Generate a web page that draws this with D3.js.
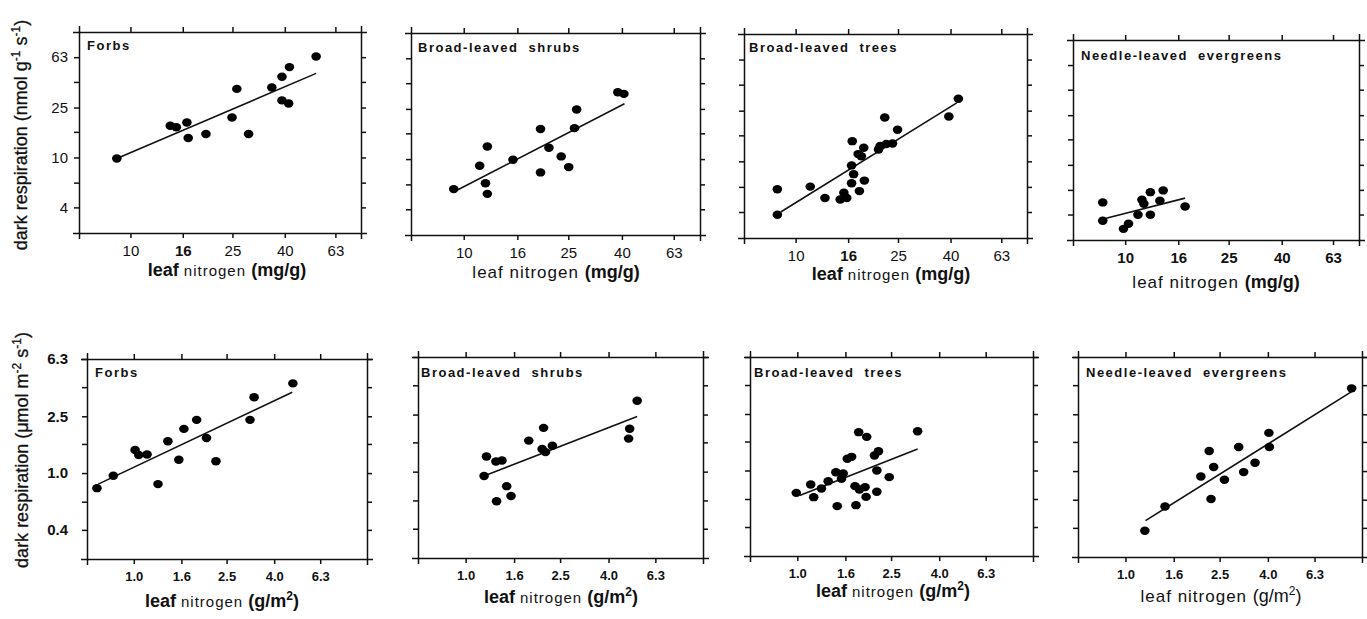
<!DOCTYPE html>
<html>
<head>
<meta charset="utf-8">
<script src="https://cdn.jsdelivr.net/npm/d3@7"></script>
<style>
  body { margin: 0; background: #fff; }
  svg { font-family: "Liberation Sans", Arial, Helvetica, sans-serif; }
  .axis path, .axis line { stroke: #111; stroke-width: 1.5; }
  .axis text { fill: #111; }
</style>
</head>
<body>
<svg id="chart" width="1367" height="619"></svg>
<script>
// ---- values ----
const groups = ["Forbs", "Broad-leaved shrubs", "Broad-leaved trees", "Needle-leaved evergreens"];

// tick values
const massTicksX = [10, 16, 25, 40, 63];
const massTicksY = [4, 6.3, 10, 16, 25, 40, 63];
const massLabelsY = [4, 10, 25, 63];
const areaTicksX = [1.0, 1.6, 2.5, 4.0, 6.3];
const areaTicksY = [0.4, 0.63, 1.0, 1.6, 2.5, 4.0, 6.3];
const areaLabelsY = [0.4, 1.0, 2.5, 6.3];
const massDomainX = [6.3, 79.3];
const massDomainY = [2.5, 100];
const areaDomainX = [0.63, 10];
const areaDomainY = [0.25, 6.3];

// mass based: leaf N (mg/g) vs dark respiration (nmol g-1 s-1)
const forbsMassN = [8.85, 14.3, 15.1, 16.6, 16.8, 19.7, 24.9, 26.0, 28.9, 35.6, 39.0, 39.0, 41.4, 41.7, 53.0];
const forbsMassR = [9.8, 17.9, 17.4, 19.0, 14.3, 15.4, 20.8, 35.2, 15.4, 36.1, 44.0, 28.5, 26.9, 52.5, 63.8];
const forbsMassFitN = [8.85, 53];
const forbsMassFitR = [9.8, 46.8];

const shrubMassN = [9.16, 11.5, 12.1, 12.3, 12.3, 15.4, 19.6, 19.6, 21.1, 23.5, 25.1, 26.4, 26.9, 38.6, 40.7];
const shrubMassR = [5.78, 8.85, 6.44, 5.30, 12.6, 9.88, 17.3, 7.84, 12.3, 10.5, 8.64, 17.6, 24.7, 33.9, 32.9];
const shrubMassFitN = [9.38, 40.9];
const shrubMassFitR = [5.64, 27.5];

const treeMassN = [8.49, 8.49, 11.4, 13.0, 14.9, 15.4, 15.8, 16.5, 16.5, 16.8, 16.6, 17.5, 18.0, 17.7, 18.4, 18.5, 21.0, 21.3, 22.2, 22.5, 23.8, 24.9, 39.4, 42.9];
const treeMassR = [6.03, 3.81, 6.33, 5.16, 5.01, 5.66, 5.16, 6.72, 9.29, 7.93, 14.4, 11.4, 10.96, 5.84, 12.8, 7.06, 12.4, 13.2, 22.1, 13.7, 13.8, 17.7, 22.5, 31.0];
const treeMassFitN = [8.75, 42.3];
const treeMassFitR = [4.0, 28.8];

const needleMassN = [8.2, 8.2, 9.85, 10.3, 11.2, 11.6, 11.8, 12.5, 12.5, 13.6, 14.0, 17.0];
const needleMassR = [5.0, 3.57, 3.07, 3.37, 3.98, 5.25, 4.88, 3.98, 6.04, 5.15, 6.24, 4.64];
const needleMassFitN = [8.45, 17.0];
const needleMassFitR = [3.74, 5.41];

// area based: leaf N (g/m2) vs dark respiration (umol m-2 s-1)
const forbsAreaN = [0.695, 0.817, 1.013, 1.05, 1.14, 1.27, 1.40, 1.56, 1.64, 1.86, 2.05, 2.25, 3.15, 3.28, 4.81];
const forbsAreaR = [0.784, 0.958, 1.45, 1.34, 1.35, 0.837, 1.67, 1.24, 2.04, 2.36, 1.76, 1.21, 2.36, 3.40, 4.25];
const forbsAreaFitN = [0.704, 4.78];
const forbsAreaFitR = [0.837, 3.69];

const shrubAreaN = [1.196, 1.224, 1.341, 1.422, 1.35, 1.489, 1.553, 1.845, 2.13, 2.10, 2.17, 2.32, 4.91, 4.86, 5.28];
const shrubAreaR = [0.932, 1.276, 1.177, 1.196, 0.621, 0.792, 0.677, 1.646, 2.02, 1.437, 1.369, 1.517, 1.99, 1.70, 3.12];
const shrubAreaFitN = [1.224, 5.28];
const shrubAreaFitR = [0.947, 2.42];

const treeAreaN = [0.99, 1.14, 1.174, 1.266, 1.352, 1.458, 1.566, 1.54, 1.477, 1.63, 1.70, 1.757, 1.774, 1.834, 1.822, 1.939, 1.97, 1.958, 2.125, 2.21, 2.175, 2.175, 2.455, 3.24];
const treeAreaR = [0.696, 0.797, 0.649, 0.747, 0.841, 0.973, 0.953, 0.874, 0.561, 1.21, 1.248, 0.776, 0.570, 0.735, 1.862, 0.764, 1.726, 0.652, 1.275, 1.368, 1.0, 0.708, 0.898, 1.89];
const treeAreaFitN = [1.023, 3.24];
const treeAreaFitR = [0.667, 1.42];

const needleAreaN = [1.208, 1.47, 2.083, 2.26, 2.30, 2.36, 2.62, 3.01, 3.16, 3.53, 4.04, 4.06, 9.04];
const needleAreaR = [0.382, 0.564, 0.917, 1.383, 0.638, 1.067, 0.869, 1.476, 0.984, 1.145, 1.852, 1.476, 3.80];
const needleAreaFitN = [1.216, 9.04];
const needleAreaFitR = [0.45, 3.60];

// ---- layout (box x, y, w, h), title offsets, x-title placement ----
const boxes = [
  [79, 32, 282, 201], [411, 33, 289, 202], [744, 34, 283, 204], [1073, 40, 286, 200],
  [87, 359, 280, 200], [418, 357, 285, 201], [750, 357, 283, 199], [1078, 357, 284, 200]
];
const titleOffsets = [[8, 18], [7, 19], [5, 18], [8, 20], [8, 18], [3, 20], [4, 20], [8, 20]];
const xTitlePos = [[227, 276], [556, 278], [891, 280], [1216, 288], [222, 607], [561, 603], [893, 597], [1221, 602]];
const xTitleStyle = ["A", "B", "A", "B", "A", "A", "A", "C"];

const svg = d3.select('#chart');

const panels = [
  {n: forbsMassN, r: forbsMassR, fn: forbsMassFitN, fr: forbsMassFitR, boldX: [16]},
  {n: shrubMassN, r: shrubMassR, fn: shrubMassFitN, fr: shrubMassFitR, boldX: []},
  {n: treeMassN, r: treeMassR, fn: treeMassFitN, fr: treeMassFitR, boldX: [16]},
  {n: needleMassN, r: needleMassR, fn: needleMassFitN, fr: needleMassFitR, boldX: massTicksX},
  {n: forbsAreaN, r: forbsAreaR, fn: forbsAreaFitN, fr: forbsAreaFitR, boldX: areaTicksX},
  {n: shrubAreaN, r: shrubAreaR, fn: shrubAreaFitN, fr: shrubAreaFitR, boldX: areaTicksX},
  {n: treeAreaN, r: treeAreaR, fn: treeAreaFitN, fr: treeAreaFitR, boldX: areaTicksX},
  {n: needleAreaN, r: needleAreaR, fn: needleAreaFitN, fr: needleAreaFitR, boldX: areaTicksX}
];

panels.forEach((p, i) => {
  const mass = i < 4;
  const [bx, by, bw, bh] = boxes[i];
  const x = d3.scaleLog().domain(mass ? massDomainX : areaDomainX).range([0, bw]);
  const y = d3.scaleLog().domain(mass ? massDomainY : areaDomainY).range([bh, 0]);
  const xTicks = mass ? massTicksX : areaTicksX;
  const yTicks = mass ? massTicksY : areaTicksY;
  const yLabels = mass ? massLabelsY : areaLabelsY;
  const fmt = mass ? d3.format('d') : d3.format('.1f');

  const g = svg.append('g').attr('transform', `translate(${bx},${by})`);

  // bottom axis with labels
  const xb = g.append('g').attr('class', 'axis').attr('transform', `translate(0,${bh})`)
    .call(d3.axisBottom(x).tickValues(xTicks).tickSize(5).tickSizeOuter(6)
      .tickPadding(mass ? 7 : 8).tickFormat(fmt));
  xb.selectAll('text')
    .attr('font-size', mass ? 15 : 13)
    .attr('font-weight', d => p.boldX.includes(d) ? 'bold' : 'normal');

  g.append('g').attr('class', 'axis')
    .call(d3.axisTop(x).tickValues(xTicks).tickSize(5).tickSizeOuter(6).tickFormat(''));

  const yl = g.append('g').attr('class', 'axis')
    .call(d3.axisLeft(y).tickValues(yTicks).tickSize(5).tickSizeOuter(6)
      .tickPadding(mass ? 6 : 14)
      .tickFormat(d => (i % 4 === 0 && yLabels.includes(d)) ? fmt(d) : ''));
  yl.selectAll('text')
    .attr('font-size', 15)
    .attr('font-weight', mass ? 'normal' : 'bold');
  // drop empty label nodes
  yl.selectAll('text').filter(function() { return this.textContent === ''; }).remove();

  g.append('g').attr('class', 'axis').attr('transform', `translate(${bw},0)`)
    .call(d3.axisRight(y).tickValues(yTicks).tickSize(5).tickSizeOuter(6).tickFormat(''))
    .selectAll('text').remove();
  g.selectAll('.axis').filter((d, k) => k === 1).selectAll('text').remove();

  // panel title
  g.append('text')
    .attr('x', titleOffsets[i][0]).attr('y', titleOffsets[i][1])
    .attr('font-size', 13).attr('font-weight', 'bold')
    .attr('letter-spacing', 1.5).attr('word-spacing', 5)
    .attr('fill', '#111')
    .text(groups[i % 4]);

  // fit line
  g.append('line')
    .attr('x1', x(p.fn[0])).attr('y1', y(p.fr[0]))
    .attr('x2', x(p.fn[1])).attr('y2', y(p.fr[1]))
    .attr('stroke', '#111').attr('stroke-width', 1.6);

  // points
  g.selectAll('.dot')
    .data(d3.zip(p.n, p.r))
    .join('ellipse')
      .attr('class', 'dot')
      .attr('cx', d => x(d[0]))
      .attr('cy', d => y(d[1]))
      .attr('rx', 4.8).attr('ry', 4.2)
      .attr('fill', '#000');

  // x axis title
  const t = svg.append('text')
    .attr('x', xTitlePos[i][0]).attr('y', xTitlePos[i][1])
    .attr('text-anchor', 'middle').attr('fill', '#111');
  const st = xTitleStyle[i];
  if (st === 'A') {
    t.append('tspan').attr('font-size', 18).attr('font-weight', 'bold').text('leaf ');
    t.append('tspan').attr('font-size', 15).attr('letter-spacing', 1).text('nitrogen ');
  } else {
    t.append('tspan').attr('font-size', 17).attr('letter-spacing', 1).text('leaf nitrogen ');
  }
  const uw = st === 'C' ? 'normal' : 'bold';
  if (mass) {
    t.append('tspan').attr('font-size', 18).attr('font-weight', uw).text('(mg/g)');
  } else {
    t.append('tspan').attr('font-size', 18).attr('font-weight', uw).text('(g/m');
    t.append('tspan').attr('font-size', 12).attr('font-weight', uw).attr('dy', -7).text('2');
    t.append('tspan').attr('font-size', 18).attr('font-weight', uw).attr('dy', 7).text(')');
  }
});

// y axis titles: [text, isSuperscript]
function yTitle(cx, cy, parts) {
  const t = svg.append('text')
    .attr('transform', `translate(${cx},${cy}) rotate(-90)`)
    .attr('text-anchor', 'middle').attr('font-size', 18).attr('fill', '#111')
    .attr('stroke', '#111').attr('stroke-width', 0.3);
  let prevSup = false;
  parts.forEach(([txt, sup]) => {
    const s = t.append('tspan').text(txt);
    if (sup) s.attr('font-size', 12).attr('dy', -7);
    else if (prevSup) s.attr('dy', 7);
    prevSup = sup;
  });
}
yTitle(27, 135, [['dark respiration (nmol g', false], ['-1', true], [' s', false], ['-1', true], [')', false]]);
yTitle(28, 450, [['dark respiration (\u03BCmol m', false], ['-2', true], [' s', false], ['-1', true], [')', false]]);
</script>
</body>
</html>
